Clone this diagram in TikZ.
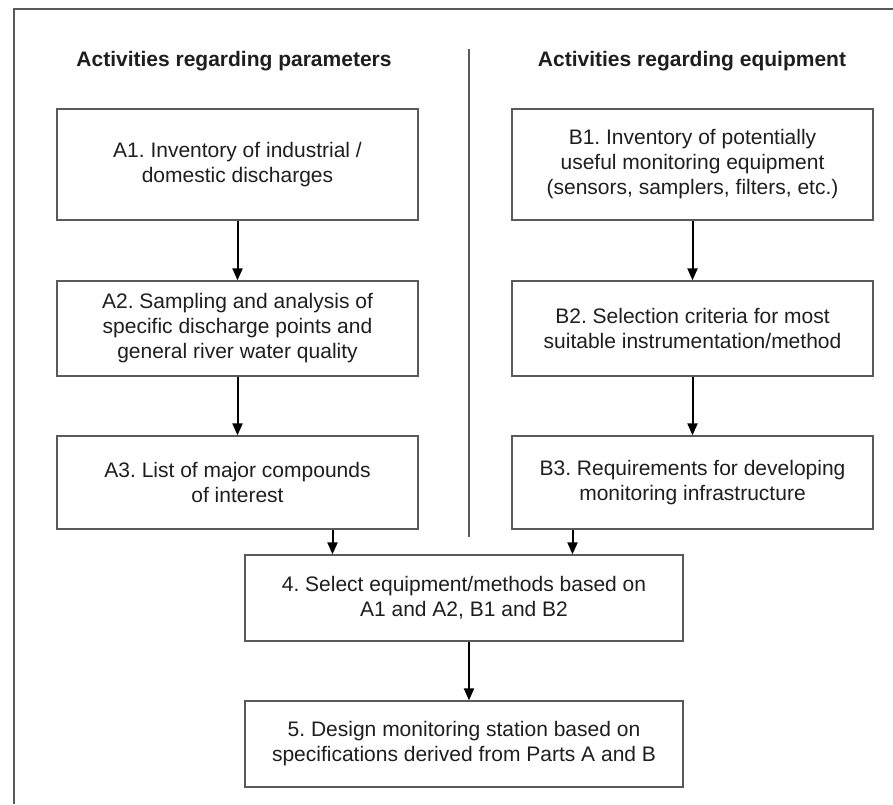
\documentclass[tikz,border=0pt]{standalone}
\usepackage{fontspec}
\setmainfont{Liberation Sans}
\usepackage{xcolor}
\usetikzlibrary{arrows.meta, positioning, calc}
\definecolor{framegray}{HTML}{5A5A5A}
\definecolor{inkgray}{HTML}{1E1E1E}
\frenchspacing
\begin{document}
\begin{tikzpicture}[
		x=1pt, y=-1pt,
		font=\fontsize{21}{25}\selectfont,
		text=inkgray,
		box/.style={draw=framegray, line width=1.3pt, align=center, inner sep=4pt},
		colbox/.style={box, minimum width=361pt},
		midbox/.style={box, minimum width=438pt, minimum height=86pt},
		flow/.style={-{Triangle[length=12pt, width=10pt]}, line width=2pt, black},
		head/.style={font=\fontsize{21}{25}\selectfont\bfseries}
		]
		\useasboundingbox (0,0) rectangle (893,804);
		
		% Frame and divider
		\draw[framegray, line width=1.5pt] (14,804) -- (14,9) -- (893,9);
		\draw[framegray, line width=1.2pt] (469,49) -- (469,537);
		
		% Column headings
		\node[head] (headA) at (234,61) {Activities regarding parameters};
		\node[head] (headB) at (692,61) {Activities regarding equipment};
		
		% Part A
		\node[colbox, minimum height=111pt] (a1) at (237.5,164.5) {A1. Inventory of industrial /\\domestic discharges};
		\node[colbox, minimum height=95pt] (a2) at (237.5,328.5) {A2. Sampling and analysis of\\specific discharge points and\\general river water quality};
		\node[colbox, minimum height=93pt] (a3) at (237.5,482.5) {A3. List of major compounds\\of interest};
		
		% Part B
		\node[colbox, minimum height=111pt] (b1) at (692.5,164.5) {B1. Inventory of potentially\\useful monitoring equipment\\(sensors, samplers, filters, etc.)};
		\node[colbox, minimum height=95pt] (b2) at (692.5,328.5) {B2. Selection criteria for most\\suitable instrumentation/method};
		\node[colbox, minimum height=93pt] (b3) at (692.5,482.5) {B3. Requirements for developing\\monitoring infrastructure};
		
		% Joint steps
		\node[midbox] (sel) at (464,598) {4. Select equipment/methods based on\\A1 and A2, B1 and B2};
		\node[midbox] (des) at (464,744) {5. Design monitoring station based on\\specifications derived from Parts A and B};
		
		% Arrows
		\draw[flow] (a1) -- (a2);
		\draw[flow] (a2) -- (a3);
		\draw[flow] (b1) -- (b2);
		\draw[flow] (b2) -- (b3);
		\draw[flow] ([xshift=95pt]a3.south) -- ([xshift=95pt]a3.south |- sel.north);
		\draw[flow] ([xshift=-120pt]b3.south) -- ([xshift=-120pt]b3.south |- sel.north);
		\draw[flow] ([xshift=5pt]sel.south) -- ([xshift=5pt]des.north);
		
	\end{tikzpicture}
\end{document}
